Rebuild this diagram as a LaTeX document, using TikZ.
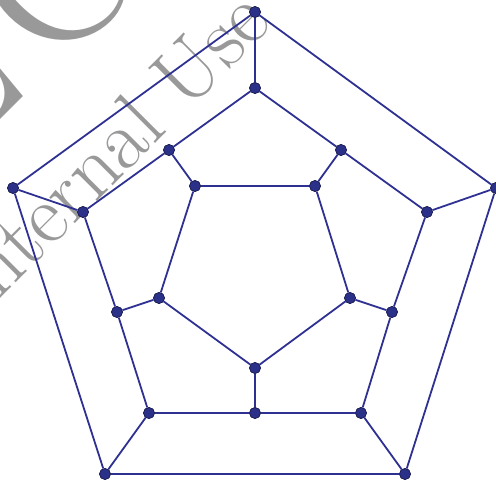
\documentclass[tikz,border=0pt]{standalone}
\definecolor{edgeblue}{HTML}{2E3192}
\definecolor{nodeblue}{HTML}{2B3088}
\definecolor{nodeline}{HTML}{1C1F50}
\definecolor{wmgray}{HTML}{999999}
\tikzset{
  vtx/.style={circle,fill=nodeblue,draw=nodeline,line width=0.6pt,minimum size=11pt,inner sep=0pt},
  edge/.style={draw=edgeblue,line width=1.8pt},
  wm/.style={text=wmgray,font=\rmfamily,inner sep=0pt,rotate=45}
}
\begin{document}
\begin{tikzpicture}[x=1pt,y=-1pt]
\useasboundingbox (0,0) rectangle (496,483);
\begin{scope}
\clip (0,0) rectangle (496,483);
% watermark
\node[wm,anchor=center,font=\fontsize{210}{210}\selectfont] (bigC) at (52,-26) {C};
\node[wm,anchor=base east,font=\fontsize{210}{210}\selectfont] (bigL) at (32,88) {L};
\node[wm,anchor=base west,font=\fontsize{85}{85}\selectfont] (iu) at (-21,320) {Internal Use};
\end{scope}
% outer ring
\node[vtx] (o1) at (255,12) {};
\node[vtx] (o2) at (496,188) {};
\node[vtx] (o3) at (405,474) {};
\node[vtx] (o4) at (105,474) {};
\node[vtx] (o5) at (13,188) {};
% middle ring
\node[vtx] (m1) at (255,88) {};
\node[vtx] (m2) at (341,150) {};
\node[vtx] (m3) at (427,212) {};
\node[vtx] (m4) at (392,312) {};
\node[vtx] (m5) at (361,413) {};
\node[vtx] (m6) at (255,413) {};
\node[vtx] (m7) at (149,413) {};
\node[vtx] (m8) at (117,312) {};
\node[vtx] (m9) at (83,212) {};
\node[vtx] (m10) at (169,150) {};
% inner ring
\node[vtx] (i1) at (315,186) {};
\node[vtx] (i2) at (350,298) {};
\node[vtx] (i3) at (255,368) {};
\node[vtx] (i4) at (159,298) {};
\node[vtx] (i5) at (195,186) {};
% edges
\path[edge] (o1) -- (o2) -- (o3) -- (o4) -- (o5) -- (o1);
\path[edge] (m1) -- (m2) -- (m3) -- (m4) -- (m5) -- (m6) -- (m7) -- (m8) -- (m9) -- (m10) -- (m1);
\path[edge] (i1) -- (i2) -- (i3) -- (i4) -- (i5) -- (i1);
\path[edge] (o1) -- (m1);
\path[edge] (o2) -- (m3);
\path[edge] (o3) -- (m5);
\path[edge] (o4) -- (m7);
\path[edge] (o5) -- (m9);
\path[edge] (m2) -- (i1);
\path[edge] (m4) -- (i2);
\path[edge] (m6) -- (i3);
\path[edge] (m8) -- (i4);
\path[edge] (m10) -- (i5);
% vertices on top of edges
\foreach \n in {o1,o2,o3,o4,o5,m1,m2,m3,m4,m5,m6,m7,m8,m9,m10,i1,i2,i3,i4,i5}
  \fill[nodeblue,draw=nodeline,line width=0.6pt] (\n) circle (5.5pt);
\end{tikzpicture}
\end{document}
